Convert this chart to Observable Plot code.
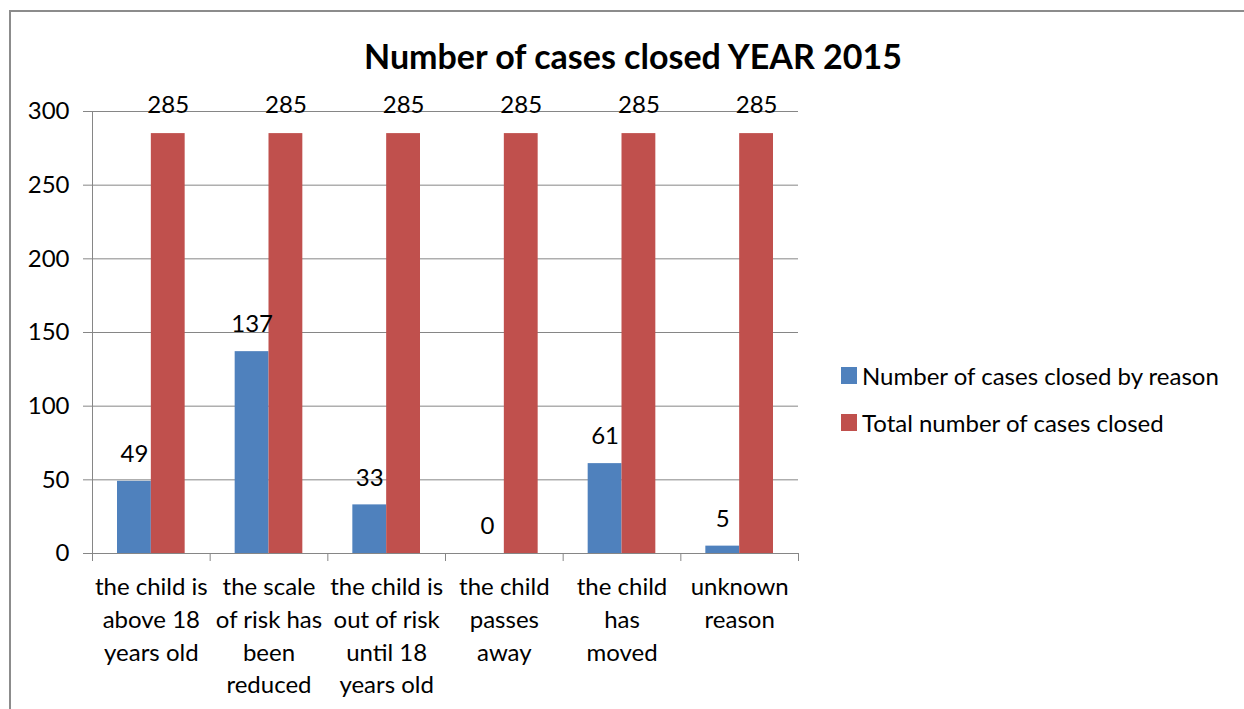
<!DOCTYPE html>
<html>
<head>
<meta charset="utf-8">
<script src="https://cdn.jsdelivr.net/npm/d3@7"></script>
<script src="https://cdn.jsdelivr.net/npm/@observablehq/plot@0.6"></script>
<style>
  html, body { margin: 0; padding: 0; background: #fff; }
  #wrap { position: relative; width: 1244px; height: 709px; overflow: hidden; font-family: Lato, "Open Sans", sans-serif; color: #000; }
  #border { position: absolute; left: 9px; top: 10px; width: 1300px; height: 800px; border-left: 2px solid #8c8c8c; border-top: 2px solid #8c8c8c; }
  #title { position: absolute; left: 0; width: 1266px; top: 35px; text-align: center; font-size: 34px; font-weight: bold; line-height: 42px; }
  #legend { position: absolute; left: 841px; top: 362px; font-size: 24px; }
  .item { display: flex; align-items: center; height: 26px; margin-bottom: 21px; }
  .sw { width: 16px; height: 17px; margin-right: 5px; }
  #chart { position: absolute; left: 0; top: 0; }
</style>
</head>
<body>
<div id="wrap">
  <div id="border"></div>
  <div id="chart"></div>
  <div id="title"></div>
  <div id="legend"></div>
</div>
<script>
const title = "Number of cases closed YEAR 2015";
const categories = [
  "the child is\nabove 18\nyears old",
  "the scale\nof risk has\nbeen\nreduced",
  "the child is\nout of risk\nuntil 18\nyears old",
  "the child\npasses\naway",
  "the child\nhas\nmoved",
  "unknown\nreason"
];
const seriesNames = ["Number of cases closed by reason", "Total number of cases closed"];
const seriesColors = ["#4F81BD", "#C0504D"];
const reasonValues = [49, 137, 33, 0, 61, 5];
const totalValues = [285, 285, 285, 285, 285, 285];
const yTicks = [0, 50, 100, 150, 200, 250, 300];

const barW = 0.2875; // fraction of a category slot per bar
const idx = categories.map((_, i) => i);
const boundaries = [...idx.map(i => i - 0.5), categories.length - 0.5];
const reasonData = reasonValues.map((v, i) => ({i, v}));
const totalData = totalValues.map((v, i) => ({i, v}));
const grid = "#868686";

const chart = Plot.plot({
  width: 1244,
  height: 709,
  marginLeft: 92,
  marginRight: 446,
  marginTop: 111,
  marginBottom: 156,
  style: {fontFamily: "Lato, 'Open Sans', sans-serif", fontSize: "24px", color: "#000", background: "transparent"},
  x: {type: "linear", domain: [-0.5, categories.length - 0.5]},
  y: {domain: [0, 300]},
  marks: [
    Plot.gridY(yTicks, {stroke: grid, strokeOpacity: 1}),
    Plot.axisY(yTicks, {tickSize: 9, tickPadding: 14, stroke: grid, fill: "#000", fontSize: 24, label: null}),
    Plot.ruleX([-0.5], {stroke: grid}),
    Plot.axisX(boundaries, {tickSize: 8, tickFormat: () => "", stroke: grid, label: null}),
    Plot.axisX(idx, {tickSize: 0, tickPadding: 18, tickFormat: i => categories[i], lineHeight: 1.37, fontSize: 24, fill: "#000", label: null}),
    Plot.rect(reasonData, {x1: d => d.i - barW, x2: d => d.i, y1: 0, y2: "v", fill: seriesColors[0]}),
    Plot.rect(totalData, {x1: d => d.i, x2: d => d.i + barW, y1: 0, y2: "v", fill: seriesColors[1]}),
    Plot.text(reasonData, {x: d => d.i - barW / 2, y: "v", text: d => String(d.v), dy: -27, fontSize: 24, fill: "#000"}),
    Plot.text(totalData, {x: d => d.i + barW / 2, y: "v", text: d => String(d.v), dy: -28, fontSize: 24, fill: "#000"})
  ]
});
document.getElementById("chart").appendChild(chart);
document.getElementById("title").textContent = title;
const legend = document.getElementById("legend");
seriesNames.forEach((name, k) => {
  const item = document.createElement("div");
  item.className = "item";
  const sw = document.createElement("div");
  sw.className = "sw";
  sw.style.background = seriesColors[k];
  const label = document.createElement("span");
  label.textContent = name;
  item.appendChild(sw);
  item.appendChild(label);
  legend.appendChild(item);
});
</script>
</body>
</html>
